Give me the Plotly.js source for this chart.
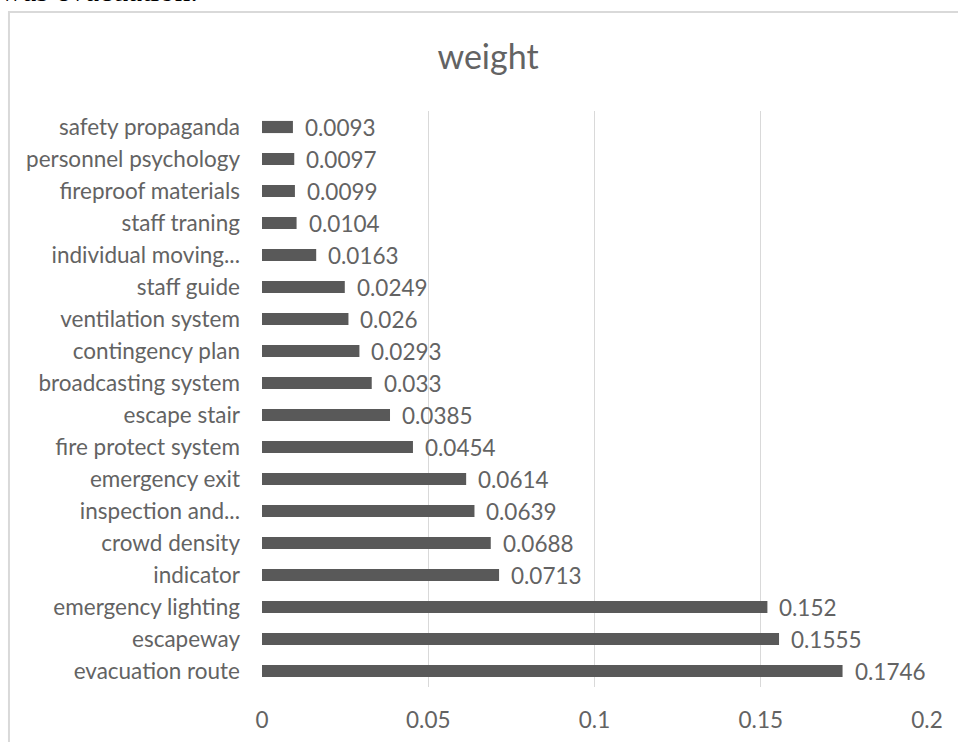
<!DOCTYPE html>
<html>
<head>
<meta charset="utf-8">
<script src="https://cdn.plot.ly/plotly-3.0.1.min.js"></script>
<style>
html,body{margin:0;padding:0;background:#fff;}
#chart{width:958px;height:742px;}
</style>
</head>
<body>
<div id="chart"></div>
<script>
// Categories listed top to bottom as in the chart
var categories = [
  "safety propaganda", "personnel psychology", "fireproof materials", "staff traning",
  "individual moving...", "staff guide", "ventilation system", "contingency plan",
  "broadcasting system", "escape stair", "fire protect system", "emergency exit",
  "inspection and...", "crowd density", "indicator", "emergency lighting",
  "escapeway", "evacuation route"
];
var weights = [
  0.0093, 0.0097, 0.0099, 0.0104,
  0.0163, 0.0249, 0.026, 0.0293,
  0.033, 0.0385, 0.0454, 0.0614,
  0.0639, 0.0688, 0.0713, 0.152,
  0.1555, 0.1746
];
var weightLabels = [
  "0.0093", "0.0097", "0.0099", "0.0104",
  "0.0163", "0.0249", "0.026", "0.0293",
  "0.033", "0.0385", "0.0454", "0.0614",
  "0.0639", "0.0688", "0.0713", "0.152",
  "0.1555", "0.1746"
];
var xTickVals = [0, 0.05, 0.1, 0.15, 0.2];
var xTickText = ["0", "0.05", "0.1", "0.15", "0.2"];
var chartTitle = "weight";
var docFragment = "was evacuation.";

var FONT = "Lato, 'Open Sans', sans-serif";
var GREY = "#636363";

var trace = {
  type: "bar",
  orientation: "h",
  x: weights,
  y: categories,
  marker: {color: "#595959"},
  hoverinfo: "x+y"
};

var annotations = categories.map(function (c, i) {
  return {
    x: weights[i], y: c, xref: "x", yref: "y",
    text: weightLabels[i], showarrow: false,
    xanchor: "left", yanchor: "middle", xshift: 10,
    font: {family: FONT, size: 22.5, color: GREY}
  };
});
annotations.push({
  xref: "paper", yref: "paper", x: -0.397, y: 1.1760,
  xanchor: "left", yanchor: "bottom",
  text: docFragment, showarrow: false,
  font: {family: "'Liberation Serif', 'DejaVu Serif', serif", size: 31, color: "#000"}
});

var layout = {
  width: 958, height: 742,
  margin: {l: 262, r: 31, t: 111, b: 55, pad: 0},
  paper_bgcolor: "#fff", plot_bgcolor: "#fff",
  showlegend: false,
  bargap: 0.62,
  title: {
    text: chartTitle,
    font: {family: FONT, size: 34, color: GREY},
    x: 488 / 958, xref: "container", xanchor: "center",
    y: 1 - 57 / 742, yref: "container", yanchor: "middle"
  },
  xaxis: {
    range: [0, 0.2],
    tickvals: xTickVals, ticktext: xTickText,
    showgrid: true, gridcolor: "#d9d9d9", gridwidth: 1,
    zeroline: false, showline: false,
    ticks: "", ticklabelstandoff: 17,
    tickfont: {family: FONT, size: 22.5, color: GREY},
    fixedrange: true
  },
  yaxis: {
    autorange: "reversed",
    type: "category",
    showgrid: false, zeroline: false, showline: false,
    ticks: "", ticklabelstandoff: 21,
    tickfont: {family: FONT, size: 22.5, color: GREY},
    fixedrange: true
  },
  shapes: [{
    type: "rect", xref: "paper", yref: "paper",
    x0: -0.3805, x1: 1.2, y0: -0.2, y1: 1.1719,
    line: {color: "#d9d9d9", width: 2}, layer: "below"
  }],
  annotations: annotations
};

Plotly.newPlot("chart", [trace], layout, {displayModeBar: false, staticPlot: true});
</script>
</body>
</html>
